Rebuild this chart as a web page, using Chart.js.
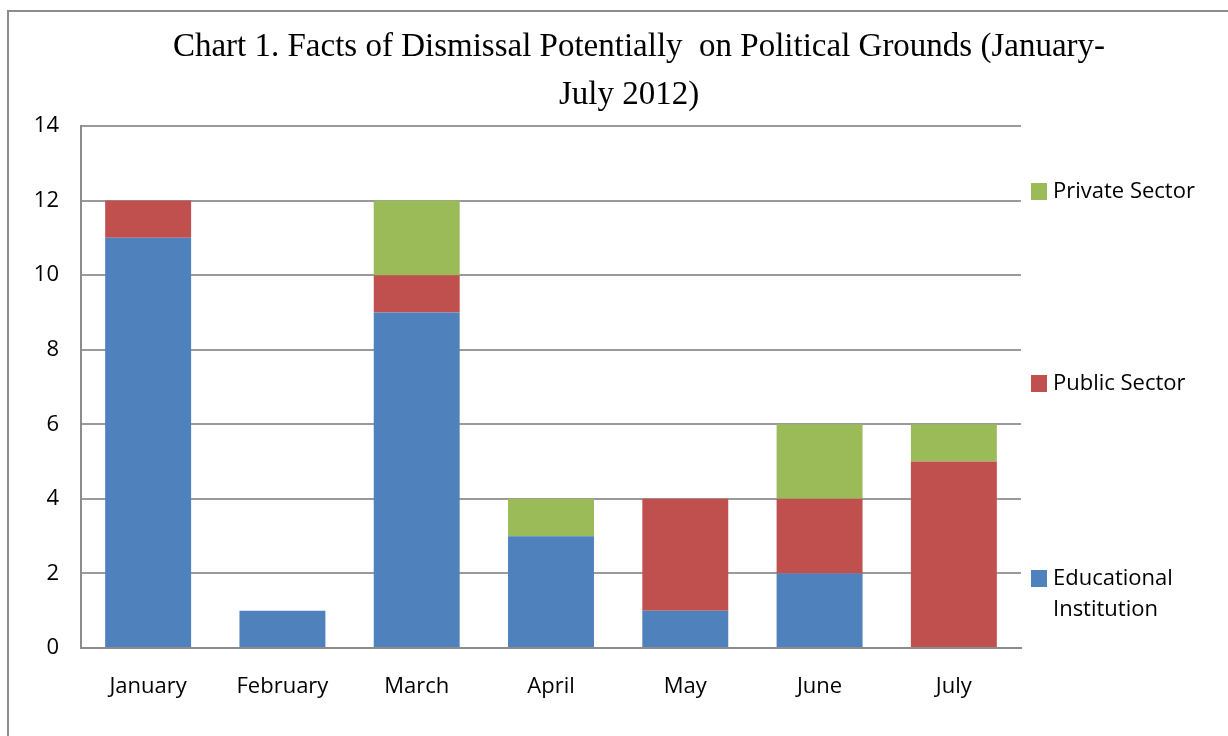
<!DOCTYPE html>
<html>
<head>
<meta charset="utf-8">
<script src="https://cdn.jsdelivr.net/npm/chart.js@4/dist/chart.umd.min.js"></script>
<style>
  html, body { margin: 0; padding: 0; background: #fff; }
  #wrap { width: 1228px; height: 736px; position: relative; }
</style>
</head>
<body>
<div id="wrap"><canvas id="myChart" width="1228" height="736"></canvas></div>
<script>
// data
var months = ['January', 'February', 'March', 'April', 'May', 'June', 'July'];
var educational = [11, 1, 9, 3, 1, 2, 0];
var publicSector = [1, 0, 1, 0, 3, 2, 5];
var privateSector = [0, 0, 2, 1, 0, 2, 1];
var yTicks = [0, 2, 4, 6, 8, 10, 12, 14];

var titleLines = ['Chart 1. Facts of Dismissal Potentially  on Political Grounds (January-', 'July 2012)'];

var sansFont = "'Open Sans', 'Noto Sans', sans-serif";

// outer frame, title and legend, drawn like excel does it
var frameAndLegend = {
    id: 'frameAndLegend',
    afterDraw: function(chart) {
        var ctx = chart.ctx;
        ctx.save();
        ctx.strokeStyle = '#8c8c8c';
        ctx.lineWidth = 2;
        ctx.strokeRect(8, 11, 1400, 1000);

        // title, centred on the whole picture
        ctx.fillStyle = '#000';
        ctx.font = "33px 'Liberation Serif', serif";
        ctx.textAlign = 'center';
        ctx.textBaseline = 'middle';
        ctx.fillText(titleLines[0], 639, 47);
        ctx.fillText(titleLines[1], 629, 95);

        // legend items: [dataset index, box centre y, text lines]
        var items = [
            [2, 191, ['Private Sector']],
            [1, 383, ['Public Sector']],
            [0, 578, ['Educational', 'Institution']]
        ];
        ctx.font = '22px ' + sansFont;
        ctx.textAlign = 'left';
        items.forEach(function(it) {
            var ds = chart.data.datasets[it[0]];
            ctx.fillStyle = ds.backgroundColor;
            ctx.fillRect(1031, it[1] - 8, 16, 17);
            ctx.fillStyle = '#000';
            it[2].forEach(function(line, i) {
                ctx.fillText(line, 1053, it[1] + 1 + i * 31);
            });
        });
        ctx.restore();
    }
};

var ctx = document.getElementById('myChart').getContext('2d');

var myChart = new Chart(ctx, {
    type: 'bar',
    data: {
        labels: months,
        datasets: [{
            label: 'Educational Institution',
            data: educational,
            backgroundColor: '#4F81BD'
        }, {
            label: 'Public Sector',
            data: publicSector,
            backgroundColor: '#C0504D'
        }, {
            label: 'Private Sector',
            data: privateSector,
            backgroundColor: '#9BBB59'
        }]
    },
    options: {
        responsive: false,
        animation: false,
        layout: {
            padding: { left: 0, right: 207, top: 126, bottom: 0 }
        },
        datasets: {
            bar: {
                categoryPercentage: 1,
                barPercentage: 0.64,
                borderWidth: 0
            }
        },
        plugins: {
            legend: { display: false },
            tooltip: { enabled: false },
            title: { display: false }
        },
        scales: {
            x: {
                stacked: true,
                grid: { display: false },
                border: { display: true, color: '#8c8c8c', width: 2 },
                ticks: {
                    color: '#000',
                    font: { family: sansFont, size: 22 },
                    padding: 18,
                    maxRotation: 0
                },
                afterFit: function(scale) { scale.height = 88; }
            },
            y: {
                stacked: true,
                min: 0,
                max: 14,
                afterBuildTicks: function(scale) {
                    scale.ticks = yTicks.map(function(v) { return { value: v }; });
                },
                grid: { color: '#9a9a9a', lineWidth: 2, drawTicks: false },
                border: { display: true, color: '#8c8c8c', width: 2 },
                ticks: {
                    color: '#000',
                    font: { family: sansFont, size: 22 },
                    padding: 22
                },
                afterFit: function(scale) { scale.width = 81; }
            }
        }
    },
    plugins: [frameAndLegend]
});
</script>
</body>
</html>
